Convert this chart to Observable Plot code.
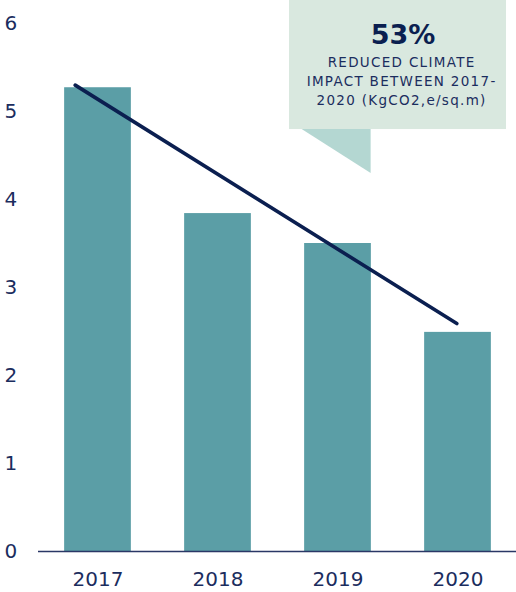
<!DOCTYPE html>
<html>
<head>
<meta charset="utf-8">
<script src="https://cdn.jsdelivr.net/npm/d3@7"></script>
<script src="https://cdn.jsdelivr.net/npm/@observablehq/plot@0.6"></script>
<style>
  html, body { margin: 0; padding: 0; background: #ffffff; }
  #chart { width: 516px; height: 592px; }
</style>
</head>
<body>
<div id="chart"></div>
<script>
// ---- data ----
const years = [2017, 2018, 2019, 2020];
const values = [5.27, 3.84, 3.50, 2.49];
const yTicks = [0, 1, 2, 3, 4, 5, 6];
const trendYears = [2016.81, 2019.99];
const trendValues = [5.30, 2.59];
const calloutHeadline = "53%";
const calloutLines = ["REDUCED CLIMATE", "IMPACT BETWEEN 2017-", "2020 (KgCO2,e/sq.m)"];

// ---- layout (annotation geometry, in data units) ----
const box = {x1: 2018.596, x2: 2020.404, y1: 4.795, y2: 6.30};
const pointer = [
  {x: 2018.701, top: 4.795, bottom: 4.795},
  {x: 2019.276, top: 4.795, bottom: 4.295}
];
const headlinePos = {x: 2019.542, y: 5.865};
const linesPos = {x: 2019.530, y: 5.36};

const navy = "#1b2d5e";
const lineNavy = "#0b1f50";
const teal = "#5b9ea6";

const bars = years.map((year, i) => ({year, value: values[i]}));
const trend = trendYears.map((year, i) => ({year, value: trendValues[i]}));

const chart = Plot.plot({
  width: 516,
  height: 592,
  marginLeft: 38,
  marginRight: 0,
  marginTop: 23,
  marginBottom: 41,
  x: {type: "linear", domain: [2016.5042, 2020.4875]},
  y: {domain: [0, 6]},
  style: {fontFamily: "'DejaVu Sans', sans-serif", color: navy, background: "#ffffff", overflow: "visible"},
  marks: [
    Plot.rect([box], {x1: "x1", x2: "x2", y1: "y1", y2: "y2", fill: "#d9e8df"}),
    Plot.areaY(pointer, {x: "x", y1: "top", y2: "bottom", fill: "#b4d7d2"}),
    Plot.rectY(bars, {x1: d => d.year - 0.278, x2: d => d.year + 0.278, y: "value", fill: teal}),
    Plot.ruleY([0], {stroke: "#2a3766", strokeWidth: 1.6}),
    Plot.line(trend, {x: "year", y: "value", stroke: lineNavy, strokeWidth: 3.6}),
    Plot.text([calloutHeadline], {x: () => headlinePos.x, y: () => headlinePos.y, text: d => d,
      fontSize: 27, fontWeight: "bold", fill: lineNavy, textAnchor: "middle"}),
    Plot.text([calloutLines.join("\n")], {x: () => linesPos.x, y: () => linesPos.y, text: d => d,
      fontSize: 13.5, lineHeight: 1.44, fill: navy, textAnchor: "middle", lineAnchor: "middle"}),
    Plot.axisY({ticks: yTicks, tickSize: 0, tickPadding: 3, textAnchor: "start", dx: -31,
      fontSize: 20, label: null, tickFormat: d => String(d)}),
    Plot.axisX({ticks: years, tickSize: 0, tickPadding: 20, fontSize: 20, label: null,
      tickFormat: d => String(d)})
  ]
});

// slightly widen the callout lettering
d3.select(chart).selectAll("text").each(function() {
  const t = this.textContent;
  if (calloutLines.some(l => t.includes(l.slice(0, 6)))) {
    d3.select(this).style("letter-spacing", "1.3px");
  }
});

document.getElementById("chart").appendChild(chart);
</script>
</body>
</html>
